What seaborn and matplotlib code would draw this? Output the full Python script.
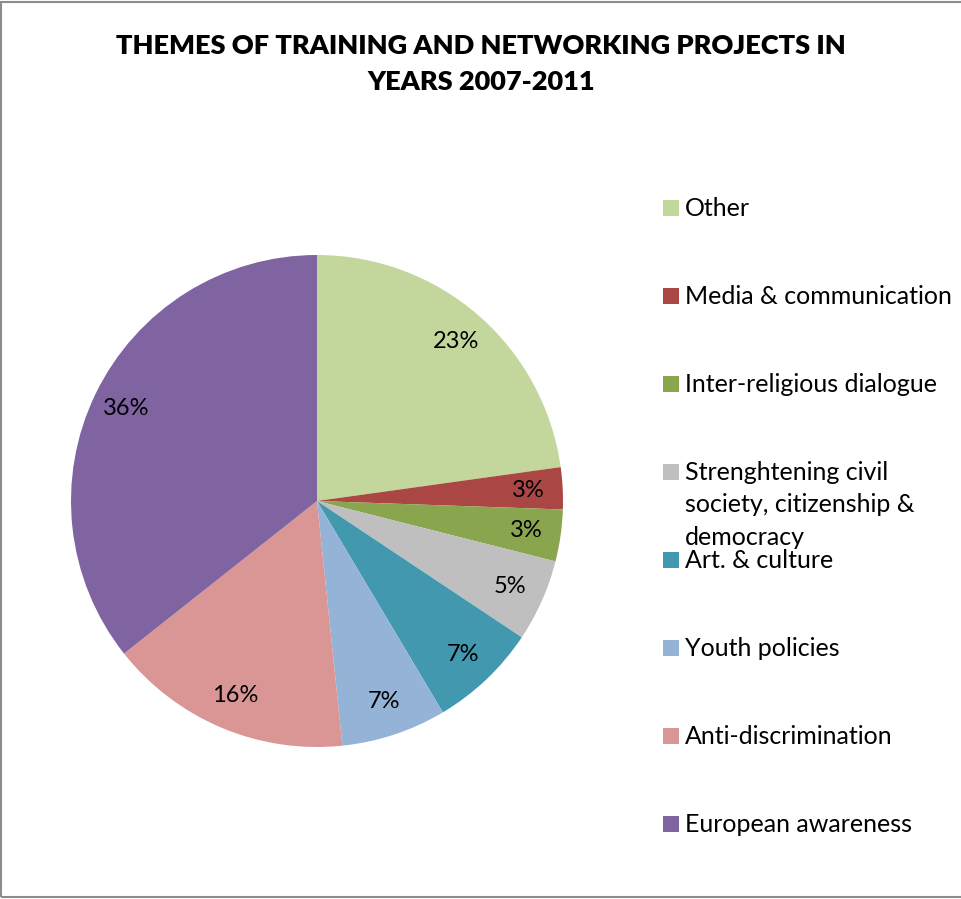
import matplotlib
matplotlib.use("Agg")
import matplotlib.pyplot as plt
import seaborn as sns
from matplotlib.patches import Rectangle

sns.set_theme(style="white")
plt.rcParams['font.family'] = ['Lato', 'DejaVu Sans']

title = "THEMES OF TRAINING AND NETWORKING PROJECTS IN\nYEARS 2007-2011"
categories = ["Other", "Media & communication", "Inter-religious dialogue",
              "Strenghtening civil\nsociety, citizenship &\ndemocracy",
              "Art. & culture", "Youth policies", "Anti-discrimination",
              "European awareness"]
values = [22.8, 2.75, 3.4, 5.4, 7.1, 6.9, 16.0, 35.65]
colors = ["#C3D69B", "#AA4643", "#89A54E", "#BFBFBF",
          "#4198AF", "#95B3D7", "#DA9694", "#8064A2"]

W, H = 961, 899
fig = plt.figure(figsize=(W / 100, H / 100), dpi=100)

# frame (right side cropped in reference)
fig.patches.append(Rectangle((0.5 / W, 2.0 / H), 1.2, 1 - 3.5 / H,
                             transform=fig.transFigure, fill=False,
                             edgecolor="#8C8C8C", linewidth=1.5))

ax = fig.add_axes([71 / W, (H - 747) / H, 492 / W, 492 / H])
wedges, texts, autotexts = ax.pie(
    values, colors=colors, startangle=90, counterclock=False,
    autopct=lambda p: f"{p:.0f}%", pctdistance=0.86, radius=1.0,
    wedgeprops=dict(linewidth=0),
    textprops=dict(fontsize=17, color="black"))
ax.set_xlim(-1, 1)
ax.set_ylim(-1, 1)
ax.set_aspect("equal")
ax.axis("off")

fig.text(481 / W, 1 - 64 / H, title, ha="center", va="center",
         fontsize=19.5, fontweight="heavy", color="black", linespacing=1.6)

# legend drawn manually
y0 = 208
step = 88
for i, (lab, col) in enumerate(zip(categories, colors)):
    yc = y0 + i * step
    fig.patches.append(Rectangle((663 / W, 1 - (yc + 8) / H), 16 / W, 16 / H,
                                 transform=fig.transFigure,
                                 facecolor=col, edgecolor="none"))
    fig.text(685 / W, 1 - (yc - 11) / H, lab, ha="left", va="top",
             fontsize=18, color="black", linespacing=1.5)

fig.savefig("out.png", dpi=100)
